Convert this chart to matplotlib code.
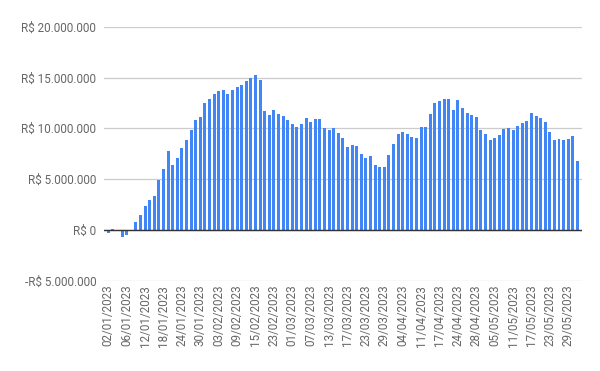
import numpy as np
import pandas as pd
import matplotlib
matplotlib.use("Agg")
import matplotlib.pyplot as plt

# trading days (B3 holidays removed), values in millions of R$
holidays = ["2023-02-20", "2023-02-21", "2023-04-07", "2023-04-21", "2023-05-01"]
dates = pd.bdate_range("2023-01-02", "2023-05-31", freq="C", holidays=holidays)

values_m = [
    -0.29, 0.10, 0.0, -0.69, -0.49, -0.13, 0.78, 1.47, 2.35, 2.94,
    3.33, 4.90, 5.98, 7.78, 6.37, 7.06, 8.04, 8.82, 9.80, 10.78,
    11.08, 12.45, 12.84, 13.33, 13.63, 13.73, 13.33, 13.73, 14.02, 14.22,
    14.61, 15.00, 15.29, 14.80, 11.67, 11.27, 11.76, 11.37, 11.18, 10.78,
    10.39, 10.10, 10.39, 10.98, 10.59, 10.88, 10.88, 10.00, 9.80, 10.00,
    9.51, 9.02, 8.14, 8.33, 8.24, 7.45, 7.06, 7.25, 6.37, 6.18,
    6.18, 7.35, 8.43, 9.41, 9.61, 9.41, 9.12, 9.02, 10.10, 10.10,
    11.37, 12.45, 12.65, 12.84, 12.84, 11.76, 12.75, 11.96, 11.47, 11.27,
    11.08, 9.80, 9.41, 8.82, 9.02, 9.31, 9.90, 10.00, 9.80, 10.20,
    10.49, 10.69, 11.47, 11.18, 10.98, 10.59, 9.61, 8.82, 8.92, 8.82,
    8.92, 9.22, 6.77,
]
values = np.array(values_m) * 1e6
labels = [d.strftime("%d/%m/%Y") for d in dates]

yticks = [-5e6, 0, 5e6, 10e6, 15e6, 20e6]


def brl(v):
    s = "R$ " + f"{abs(int(v)):,}".replace(",", ".")
    return "-" + s if v < 0 else s


plt.rcParams["font.family"] = ["Roboto", "DejaVu Sans"]

fig = plt.figure(figsize=(6, 3.71), dpi=100)
ax = fig.add_axes([0.1733, 0.2434, 0.7967, 0.6846])

x = np.arange(len(values))
ax.bar(x, values, width=0.65, color="#4285f4", zorder=3)

ax.set_ylim(-5e6, 20e6)
ax.set_xlim(-0.93, 103.0)
ax.set_yticks(yticks)
ax.set_yticklabels([brl(v) for v in yticks])
ax.yaxis.grid(True, color="#cccccc", linewidth=0.9, zorder=0)
ax.axhline(0, color="#333333", linewidth=1.0, zorder=4)

ax.set_xticks(x[::4])
ax.set_xticklabels(labels[::4], rotation=90)

for s in ax.spines.values():
    s.set_visible(False)
ax.tick_params(axis="y", length=0, pad=5.5, labelsize=8.4, labelcolor="#666666")
ax.tick_params(axis="x", length=0, pad=3, labelsize=8.4, labelcolor="#666666")

fig.savefig("out.png", dpi=100)
